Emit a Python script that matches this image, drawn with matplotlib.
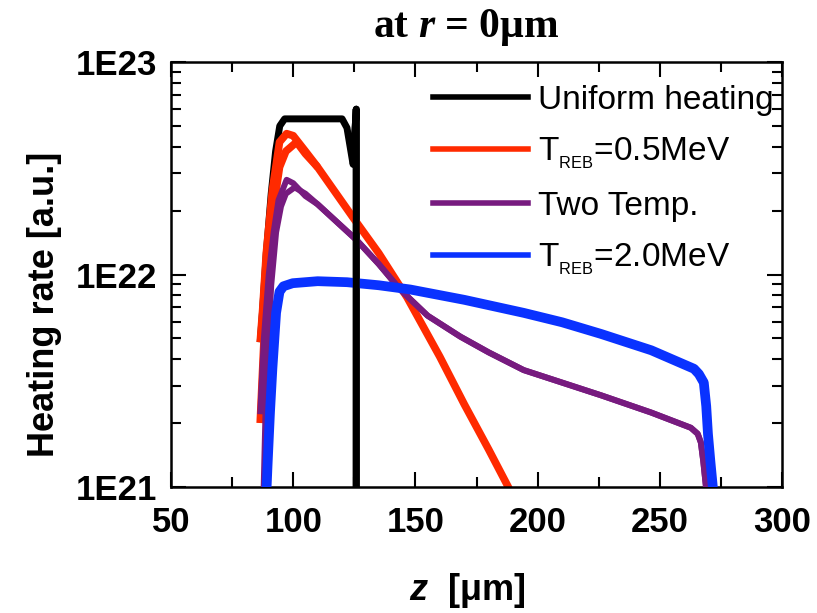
import matplotlib
matplotlib.use('Agg')
import matplotlib.pyplot as plt
from matplotlib.lines import Line2D
from matplotlib.ticker import MultipleLocator, LogLocator, FuncFormatter, NullFormatter
import numpy as np

plt.rcParams['mathtext.fontset'] = 'custom'
plt.rcParams['mathtext.it'] = 'Liberation Serif:italic:bold'
plt.rcParams['mathtext.sf'] = 'Liberation Sans:italic:bold'
plt.rcParams['mathtext.rm'] = 'Liberation Sans'

SANS = ['Liberation Sans', 'DejaVu Sans']

# ---------------- data ----------------
black_z = [86.5, 87.5, 89.0, 91.0, 92.8, 94.5, 96.5, 108.0, 120.0, 122.0, 124.5, 125.8, 125.8]
black_v = [4.8e21, 6.8e21, 1.26e22, 2.4e22, 3.8e22, 5.0e22, 5.4e22, 5.4e22, 5.4e22, 4.9e22, 3.3e22, 6.0e22, 3.0e20]

red_a_z = [86.5, 87.5, 89.0, 91.5, 94.4, 97.3, 100.0, 105.0, 110.0, 124.4, 135.0, 146.6, 160.0, 170.0, 180.0, 188.0, 190.0]
red_a_v = [4.8e21, 6.8e21, 1.26e22, 2.5e22, 4.2e22, 4.6e22, 4.5e22, 3.8e22, 3.2e22, 1.86e22, 1.26e22, 7.8e21, 4.1e21, 2.45e21, 1.5e21, 1.0e21, 8.9e20]
red_b_z = [86.5, 89.0, 91.0, 94.4, 97.0, 101.4, 105.0, 110.0]
red_b_v = [2.0e21, 8.5e21, 1.74e22, 3.2e22, 3.8e22, 4.2e22, 3.7e22, 3.2e22]

purple_a_z = [86.5, 88.0, 90.0, 92.0, 94.0, 97.3, 100.0, 105.0]
purple_a_v = [2.2e21, 5.0e21, 1.0e22, 1.58e22, 2.24e22, 2.79e22, 2.69e22, 2.34e22]
purple_b_z = [87.5, 89.0, 91.0, 93.0, 95.0, 97.0, 100.6, 105.0]
purple_b_v = [6.3e20, 3.2e21, 8.9e21, 1.58e22, 2.09e22, 2.4e22, 2.57e22, 2.4e22]
purple_tail_z = [110.0, 126.0, 135.0, 143.75, 155.0, 168.4, 180.0, 194.3, 210.0, 226.0, 246.5, 262.7, 265.5, 266.8, 267.8, 268.9, 269.5, 270.0]
purple_tail_v = [2.14e22, 1.45e22, 1.12e22, 8.5e21, 6.4e21, 5.1e21, 4.3e21, 3.55e21, 3.1e21, 2.7e21, 2.24e21, 1.9e21, 1.78e21, 1.62e21, 1.32e21, 1.0e21, 7.1e20, 5.0e20]

blue_z = [88.4, 89.5, 90.5, 91.5, 93.0, 94.4, 96.0, 99.8, 110.0, 122.0, 135.0, 147.9, 170.0, 194.3, 210.0, 226.0, 246.5, 264.0, 266.0, 268.0, 269.0, 269.7, 270.7, 271.7, 272.5]
blue_v = [6.3e20, 1.26e21, 2.24e21, 3.63e21, 6.6e21, 8.3e21, 8.8e21, 9.1e21, 9.3e21, 9.2e21, 8.9e21, 8.5e21, 7.6e21, 6.6e21, 5.96e21, 5.25e21, 4.4e21, 3.6e21, 3.4e21, 3.1e21, 2.4e21, 1.78e21, 1.32e21, 1.0e21, 7.9e20]

series_labels = ['Uniform heating', r'T$_{_{\mathregular{REB}}}$=0.5MeV', 'Two Temp.', r'T$_{_{\mathregular{REB}}}$=2.0MeV']
series_colors = ['#000000', '#ff2a00', '#771b7f', '#0a32ff']

x_ticks = [50, 100, 150, 200, 250, 300]
y_ticks = [1e21, 1e22, 1e23]

# ---------------- figure ----------------
fig = plt.figure(figsize=(8.17, 6.13), dpi=100)
ax = fig.add_axes([171 / 817, 1 - 487 / 613, (782 - 171) / 817, (487 - 62) / 613])

ax.plot(black_z, black_v, color=series_colors[0], lw=5, solid_capstyle='butt', zorder=1)
ax.plot(red_a_z, red_a_v, color=series_colors[1], lw=5.5, solid_capstyle='butt', zorder=2)
ax.plot(red_b_z, red_b_v, color=series_colors[1], lw=5.5, solid_capstyle='butt', zorder=2)
ax.plot(purple_a_z + purple_tail_z, purple_a_v + purple_tail_v, color=series_colors[2], lw=4.3,
        solid_capstyle='butt', zorder=3)
ax.plot(purple_b_z + purple_tail_z, purple_b_v + purple_tail_v, color=series_colors[2], lw=4.3,
        solid_capstyle='butt', zorder=3)
ax.plot(blue_z, blue_v, color=series_colors[3], lw=7, solid_capstyle='butt', zorder=4)
# the sharp edge of the uniform-heating profile lies on top of the other curves
ax.plot(black_z[-3:], black_v[-3:], color=series_colors[0], lw=5, solid_capstyle='butt', zorder=6)

ax.set_yscale('log')
ax.set_xlim(50, 300)
ax.set_ylim(1e21, 1e23)

ax.xaxis.set_minor_locator(MultipleLocator(25))
ax.set_xticks(x_ticks)
ax.set_yticks(y_ticks)
ax.yaxis.set_minor_locator(LogLocator(base=10, subs=np.arange(2, 10)))
ax.yaxis.set_minor_formatter(NullFormatter())
ax.yaxis.set_major_formatter(FuncFormatter(lambda v, p: '1E%d' % int(round(np.log10(v)))))

ax.tick_params(which='both', direction='in', top=True, right=True, width=1.5)
ax.tick_params(which='major', length=11)
ax.tick_params(which='minor', length=7)
ax.tick_params(axis='x', which='major', pad=14)
ax.tick_params(axis='y', which='major', pad=10)
for lab in ax.get_xticklabels() + ax.get_yticklabels():
    lab.set_family(SANS)
    lab.set_fontweight('bold')
    lab.set_fontsize(25)
for sp in ax.spines.values():
    sp.set_linewidth(1.8)

handles = [Line2D([], [], color=c, lw=4) for c in series_colors]
leg = ax.legend(handles, series_labels, loc='upper left', bbox_to_anchor=(433 / 817, 1 - 85 / 613),
                bbox_transform=fig.transFigure, frameon=False, borderpad=0, borderaxespad=0,
                handlelength=2.85, handletextpad=0.3, labelspacing=0.6,
                prop={'family': SANS, 'size': 24})

fig.text(466 / 817, 1 - 27 / 613, 'at $r$ = 0μm', family='Liberation Serif', weight='bold',
         size=30, ha='center', va='center')
fig.text(467 / 817, 1 - 590 / 613, r'$\mathsf{z}$  [μm]', family=SANS, weight='bold',
         size=26, ha='center', va='center')
fig.text(45 / 817, 1 - 304 / 613, 'Heating rate [a.u.]', family=SANS, weight='bold',
         size=26, ha='center', va='center', rotation=90)

fig.savefig('out.png', dpi=100)
